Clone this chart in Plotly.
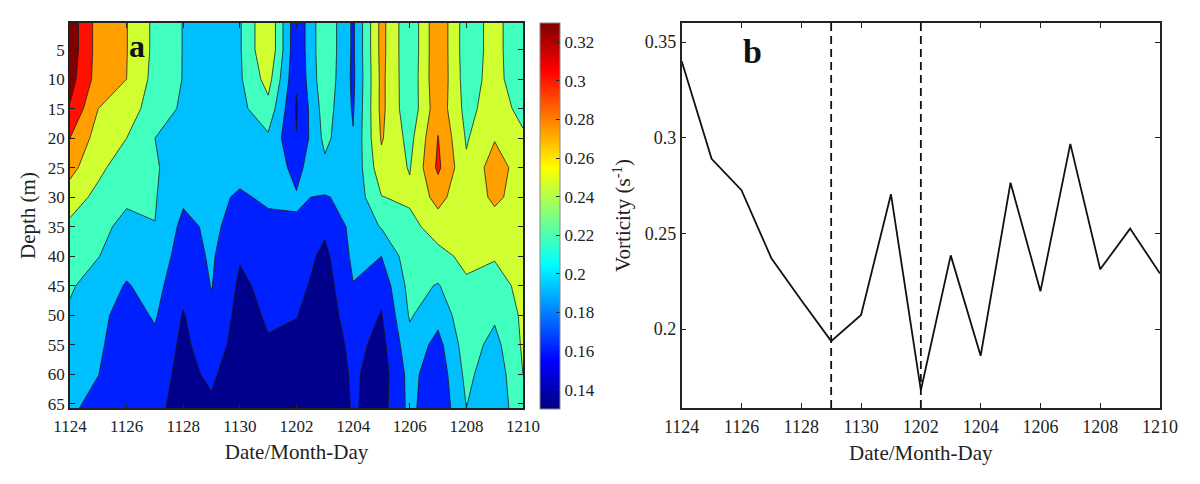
import plotly.graph_objects as go
from plotly.subplots import make_subplots
import numpy as np

# days after 1124, ticks every 2
day_index = list(range(17))
date_ticks = [0, 2, 4, 6, 8, 10, 12, 14, 16]
date_labels = ['1124', '1126', '1128', '1130', '1202', '1204', '1206', '1208', '1210']

depths = [0.5, 5, 10, 15, 20, 25, 30, 35, 40, 45, 50, 55, 60, 65.7]
depth_ticks = [5, 10, 15, 20, 25, 30, 35, 40, 45, 50, 55, 60, 65]

# one list per day, top to bottom
day_profiles = [
    [.358, .358, .352, .337, .310, .289, .266, .243, .235, .224, .215, .205, .200, .195],
    [.298, .298, .297, .280, .267, .258, .241, .228, .221, .204, .198, .195, .1905, .180],
    [.281, .281, .280, .270, .250, .231, .225, .212, .200, .188, .178, .172, .168, .165],
    [.243, .243, .240, .230, .220, .223, .222, .2195, .210, .200, .193, .183, .172, .165],
    [.219, .219, .219, .217, .210, .205, .195, .182, .175, .168, .158, .153, .152, .152],
    [.205, .205, .204, .203, .202, .200, .198, .196, .194, .191, .185, .178, .165, .155],
    [.217, .217, .216, .212, .205, .200, .186, .178, .162, .155, .150, .145, .140, .135],
    [.279, .279, .262, .240, .215, .205, .195, .182, .172, .167, .163, .158, .153, .145],
    [.166, .166, .163, .157, .161, .183, .192, .188, .178, .170, .161, .152, .145, .140],
    [.245, .245, .243, .235, .228, .213, .188, .166, .152, .145, .140, .135, .133, .132],
    [.185, .185, .184, .187, .192, .196, .198, .198, .196, .189, .180, .170, .165, .163],
    [.290, .290, .288, .288, .283, .270, .249, .222, .190, .170, .158, .150, .145, .148],
    [.225, .225, .227, .228, .240, .248, .256, .240, .238, .230, .223, .210, .200, .198],
    [.305, .305, .305, .300, .311, .316, .290, .265, .240, .218, .200, .180, .170, .166],
    [.233, .233, .235, .240, .247, .255, .258, .256, .258, .245, .240, .235, .228, .220],
    [.261, .261, .262, .266, .278, .295, .287, .265, .252, .240, .225, .210, .200, .195],
    [.224, .224, .226, .240, .255, .265, .265, .262, .260, .257, .255, .254, .250, .245],
]

vorticity = [.340, .289, .2726, .237, .215, .1937, .2073, .2705, .168, .2385, .186, .2765,
             .2197, .2968, .2312, .2525, .229]

bar_ticks = [.14, .16, .18, .20, .22, .24, .26, .28, .30, .32]
bar_labels = ['0.14', '0.16', '0.18', '0.2', '0.22', '0.24', '0.26', '0.28', '0.3', '0.32']

jet = [[0, '#000080'], [.125, '#0000ff'], [.375, '#00ffff'], [.625, '#ffff00'],
       [.875, '#ff0000'], [1, '#800000']]

# fill colours of the contour bands, low to high
band_colors = ['#00008c', '#0020ff', '#00bfff', '#40ffbf', '#cfff30', '#ff9f00', '#ff1000', '#800000']

W = 1200
H = 484
font_name = 'Liberation Serif'
ink = '#222222'

z = np.array(day_profiles).T
band_scale = [[i / (len(band_colors) - 1), c] for i, c in enumerate(band_colors)]

fig = make_subplots(rows=1, cols=2)

# heatmap sits under the filled contours, it is only here for the smooth colorbar
fig.add_trace(go.Heatmap(x=day_index, y=depths, z=z, zmin=.13, zmax=.33, colorscale=jet,
                         hoverinfo='skip',
                         colorbar=dict(x=540 / W, xanchor='left', xpad=0, y=1 - 23 / H, yanchor='top', ypad=0,
                                       lenmode='pixels', len=386, thicknessmode='pixels', thickness=20,
                                       outlinecolor='#888888', outlinewidth=1, ticks='inside', ticklen=4,
                                       tickcolor=ink, tickvals=bar_ticks, ticktext=bar_labels,
                                       tickfont=dict(family=font_name, size=17, color=ink))),
              row=1, col=1)

# zmin/zmax are the band centres, so each band gets exactly its colour
fig.add_trace(go.Contour(x=day_index, y=depths, z=z, zmin=.145, zmax=.355, colorscale=band_scale, showscale=False,
                         autocontour=False,
                         contours=dict(coloring='fill', start=.16, end=.34, size=.03),
                         line=dict(color='#1a1a1a', width=0.8, smoothing=0)),
              row=1, col=1)

fig.add_trace(go.Scatter(x=day_index, y=vorticity, mode='lines', showlegend=False,
                         line=dict(color='#111111', width=1.8)),
              row=1, col=2)

for day in [5, 8]:
    fig.add_shape(type='line', x0=day, x1=day, y0=.1587, y1=.36, xref='x2', yref='y2',
                  line=dict(color='#111111', width=1.8, dash='8px,5px'))

axis_style = dict(showgrid=False, zeroline=False, showline=True, linecolor=ink, linewidth=1.5,
                  mirror='allticks', ticks='inside', ticklen=5, tickcolor=ink, tickwidth=1.3,
                  automargin=False, tickfont=dict(family=font_name, size=17, color=ink))
title_font = dict(family=font_name, size=21, color=ink)
big_ticks = dict(family=font_name, size=18, color=ink)

fig.update_xaxes(axis_style)
fig.update_yaxes(axis_style)

fig.update_xaxes(domain=[70 / W, 523 / W], range=[0, 16], tickmode='array', tickvals=date_ticks,
                 ticktext=date_labels, ticklabelstandoff=2,
                 title=dict(text='Date/Month-Day', font=title_font, standoff=9), row=1, col=1)
fig.update_yaxes(domain=[1 - 408 / H, 1 - 23 / H], range=[65.7, 0.5], tickmode='array', tickvals=depth_ticks,
                 title=dict(text='Depth (m)', font=title_font, standoff=6), row=1, col=1)
fig.update_xaxes(domain=[681.7 / W, 1160 / W], range=[0, 16], tickmode='array', tickvals=date_ticks,
                 ticktext=date_labels, ticklabelstandoff=2, tickfont=big_ticks,
                 title=dict(text='Date/Month-Day', font=title_font, standoff=9), row=1, col=2)
fig.update_yaxes(domain=[1 - 408 / H, 1 - 23 / H], range=[.1587, .36], tickmode='array',
                 tickvals=[.2, .25, .3, .35], ticktext=['0.2', '0.25', '0.3', '0.35'], tickfont=big_ticks,
                 title=dict(text='Vorticity (s<sup>-1</sup>)', font=title_font, standoff=8), row=1, col=2)

fig.add_annotation(x=137 / W, y=1 - 46 / H, xref='paper', yref='paper', text='<b>a</b>', showarrow=False,
                   xanchor='center', yanchor='middle', font=dict(family=font_name, size=32, color='#111111'))
fig.add_annotation(x=753 / W, y=1 - 52 / H, xref='paper', yref='paper', text='<b>b</b>', showarrow=False,
                   xanchor='center', yanchor='middle', font=dict(family=font_name, size=34, color='#111111'))

fig.update_layout(width=W, height=H, margin=dict(l=0, r=0, t=0, b=0, autoexpand=False), plot_bgcolor='white',
                  paper_bgcolor='white', showlegend=False)

fig.write_html('out.html', post_script="document.body.style.margin='0';", config={'displayModeBar': False})
